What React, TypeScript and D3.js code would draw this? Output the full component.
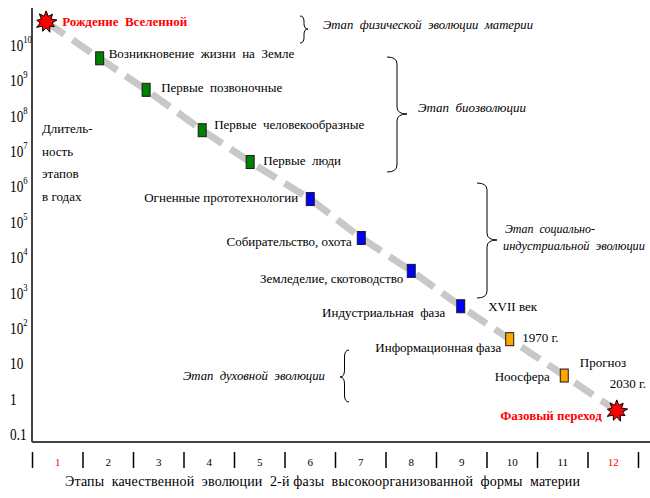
import React from 'react';
import * as d3 from 'd3';

// ---- data ----
const stageNumbers = ['1', '2', '3', '4', '5', '6', '7', '8', '9', '10', '11', '12'];
// position of each event along the stage axis (column units)
const stagePositions = [0.77, 1.83, 2.75, 3.86, 4.81, 6.0, 7.01, 8.0, 8.98, 9.95, 11.03, 12.07];
// duration of the stage in years (log scale)
const durations = [4.5e10, 4.2e9, 5.4e8, 3.9e7, 4.9e6, 4.4e5, 3.5e4, 4.1e3, 410, 48, 4.5, 0.45];
const markerKinds = ['star', 'bio', 'bio', 'bio', 'bio', 'social', 'social', 'social', 'social', 'info', 'info', 'star'];
const stageLabels = [
  'Рождение  Вселенной',
  'Возникновение  жизни  на  Земле',
  'Первые  позвоночные',
  'Первые  человекообразные',
  'Первые  люди',
  'Огненные прототехнологии',
  'Собирательство, охота',
  'Земледелие, скотоводство',
  'Индустриальная  фаза',
  'Информационная фаза',
  'Ноосфера',
  'Фазовый переход',
];
const yTickValues = [1e10, 1e9, 1e8, 1e7, 1e6, 1e5, 1e4, 1e3, 1e2, 10, 1, 0.1];
const yTickBase = ['10', '10', '10', '10', '10', '10', '10', '10', '10', '10', '1', '0.1'];
const yTickExp = ['10', '9', '8', '7', '6', '5', '4', '3', '2', '', '', ''];
const yAxisTitle = ['Длитель-', 'ность', 'этапов', 'в годах'];
const xAxisTitle = 'Этапы  качественной  эволюции  2-й фазы  высокоорганизованной  формы  материи';

const kindColors: Record<string, string> = {
  star: '#ff0000',
  bio: '#008000',
  social: '#0000ff',
  info: '#ffa500',
};

// label layout (offsets relative to the marker)
const labelLayout = [
  { dx: 16, dy: 1, anchor: 'start', red: true },
  { dx: 9, dy: -3, anchor: 'start' },
  { dx: 15, dy: -1, anchor: 'start' },
  { dx: 12, dy: -4, anchor: 'start' },
  { dx: 13, dy: 0, anchor: 'start' },
  { dx: -12, dy: 0, anchor: 'end' },
  { dx: -9.5, dy: 5.5, anchor: 'end' },
  { dx: -8, dy: 9.5, anchor: 'end' },
  { dx: -15.5, dy: 8, anchor: 'end' },
  { dx: -8.5, dy: 10, anchor: 'end' },
  { dx: -14.5, dy: 2.5, anchor: 'end' },
  { dx: -15, dy: 6, anchor: 'end', red: true },
];
const extraLabels = [
  { stage: 8, text: 'XVII век', dx: 27.5, dy: 2 },
  { stage: 9, text: '1970 г.', dx: 12.5, dy: 0 },
  { stage: 10, text: 'Прогноз', dx: 15.5, dy: -11.5 },
  { stage: 10, text: '2030 г.', dx: 45.5, dy: 9.5 },
];

const W = 650;
const H = 498;
const FONT = 'Liberation Serif, Tinos, DejaVu Serif, serif';

function starPath(): string {
  const radii = [11, 6, 10, 5.5, 11, 6, 9.5, 5.5, 11, 6, 10, 5.5, 11, 6, 9.5, 5.5, 10.5, 6];
  const n = radii.length;
  const pts: [number, number][] = radii.map((r, i) => [(i / n) * 2 * Math.PI, r]);
  return d3.lineRadial().curve(d3.curveLinearClosed)(pts) || '';
}

function bracePath(x: number, y0: number, y1: number, ym: number, w: number): string {
  const h = w / 2;
  const r = Math.min(7, (y1 - y0) / 5);
  const p = d3.path();
  p.moveTo(x, y0);
  p.quadraticCurveTo(x + h, y0, x + h, y0 + r);
  p.lineTo(x + h, ym - r);
  p.quadraticCurveTo(x + h, ym, x + w, ym);
  p.quadraticCurveTo(x + h, ym, x + h, ym + r);
  p.lineTo(x + h, y1 - r);
  p.quadraticCurveTo(x + h, y1, x, y1);
  return p.toString();
}

const braces = [
  { x: 300, y0: 16, y1: 43, ym: 29, w: 8 },
  { x: 387, y0: 57, y1: 172, ym: 114, w: 20 },
  { x: 477, y0: 183, y1: 298, ym: 240, w: 20 },
  { x: 349, y0: 350, y1: 402, ym: 377, w: -9 },
];
const braceTexts = [
  { text: 'Этап  физической  эволюции  материи', x: 323, y: 26, anchor: 'start', len: 210 },
  { text: 'Этап  биозволюции', x: 418, y: 109, anchor: 'start', len: 108 },
  { text: 'Этап  социально-', x: 505, y: 230, anchor: 'start', len: 90 },
  { text: 'индустриальной  эволюции', x: 503, y: 247, anchor: 'start', len: 142 },
  { text: 'Этап  духовной  эволюции', x: 325, y: 377, anchor: 'end', len: 142 },
];

export default function App() {
  const x = d3.scaleLinear().domain([0.5, 12.5]).range([32.5, 638.5]);
  const y = d3.scaleLog().domain([1e10, 0.1]).range([45, 434]);

  const pts: [number, number][] = stagePositions.map((p, i) => [x(p), y(durations[i])]);
  const linePath = d3.line()(pts) || '';
  const star = starPath();
  const boundaries = d3.range(0, 13).map((k) => k + 0.5);

  const base = { fontFamily: FONT, whiteSpace: 'pre' as const };

  return (
    <svg width={W} height={H} style={{ position: 'fixed', left: 0, top: 0, background: '#fff' }}>
      <rect width={W} height={H} fill="#fff" />
      {/* axes */}
      <line x1={32} y1={8} x2={32} y2={442} stroke="#444" strokeWidth={2} />
      <line x1={32} y1={442} x2={650} y2={442} stroke="#444" strokeWidth={2} />

      {/* y tick labels */}
      {yTickValues.map((v, i) => (
        <g key={i} transform={`translate(10,${y(v) + 6}) scale(0.78,1)`}>
          <text fontFamily={FONT} fontSize={17} fill="#000">
            {yTickBase[i]}
            {yTickExp[i] && (
              <tspan fontSize={11} dy={-8}>
                {yTickExp[i]}
              </tspan>
            )}
          </text>
        </g>
      ))}

      {/* y axis title */}
      {yAxisTitle.map((t, i) => (
        <text key={i} x={42} y={133 + i * 22.5} fontFamily={FONT} fontSize={13} fill="#000">
          {t}
        </text>
      ))}

      {/* stage separators and numbers */}
      {boundaries.map((b, i) => (
        <line key={i} x1={x(b)} x2={x(b)} y1={452} y2={468} stroke="#000" strokeWidth={1.5} />
      ))}
      {stageNumbers.map((s, i) => (
        <text
          key={i}
          x={x(i + 1)}
          y={466}
          textAnchor="middle"
          fontFamily={FONT}
          fontSize={11}
          fill={i === 0 || i === 11 ? '#ff0000' : '#000'}
        >
          {s}
        </text>
      ))}
      <text
        x={65}
        y={486}
        fontFamily={FONT}
        fontSize={14}
        style={base}
        textLength={515}
        lengthAdjust="spacing"
        fill="#000"
      >
        {xAxisTitle}
      </text>

      {/* dashed trend line */}
      <path d={linePath} fill="none" stroke="#c8c8c8" strokeWidth={7} strokeDasharray="22 10" />

      {/* markers */}
      {pts.map(([px, py], i) =>
        markerKinds[i] === 'star' ? (
          <path
            key={i}
            d={star}
            transform={`translate(${px},${py})`}
            fill={kindColors.star}
            stroke="#000"
            strokeWidth={1}
          />
        ) : (
          <rect
            key={i}
            x={px - 4}
            y={py - 6.5}
            width={8}
            height={13}
            fill={kindColors[markerKinds[i]]}
            stroke="#1a1a1a"
            strokeWidth={1}
          />
        )
      )}

      {/* labels */}
      {pts.map(([px, py], i) => {
        const l = labelLayout[i];
        return (
          <text
            key={i}
            x={px + l.dx}
            y={py + l.dy}
            dominantBaseline="middle"
            textAnchor={l.anchor as any}
            fontFamily={FONT}
            fontSize={13}
            fontWeight={l.red ? 'bold' : 'normal'}
            style={base}
            fill={l.red ? '#ff0000' : '#000'}
          >
            {stageLabels[i]}
          </text>
        );
      })}
      {extraLabels.map((e, i) => (
        <text
          key={i}
          x={pts[e.stage][0] + e.dx}
          y={pts[e.stage][1] + e.dy}
          dominantBaseline="middle"
          fontFamily={FONT}
          fontSize={13}
          style={base}
          fill="#000"
        >
          {e.text}
        </text>
      ))}

      {/* braces */}
      {braces.map((b, i) => (
        <path key={i} d={bracePath(b.x, b.y0, b.y1, b.ym, b.w)} fill="none" stroke="#000" strokeWidth={1} />
      ))}
      {braceTexts.map((b, i) => (
        <text
          key={i}
          x={b.x}
          y={b.y}
          textAnchor={b.anchor as any}
          dominantBaseline="middle"
          fontFamily={FONT}
          fontSize={12}
          fontStyle="italic"
          style={base}
          textLength={b.len}
          lengthAdjust="spacingAndGlyphs"
          fill="#000"
        >
          {b.text}
        </text>
      ))}
    </svg>
  );
}
